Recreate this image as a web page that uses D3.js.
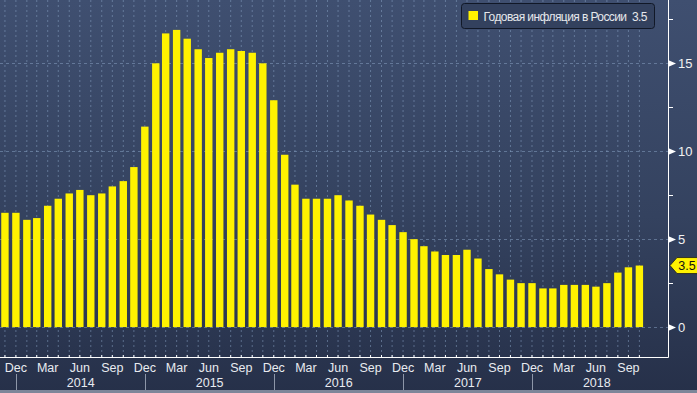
<!DOCTYPE html>
<html>
<head>
<meta charset="utf-8">
<script src="https://cdn.jsdelivr.net/npm/d3@7"></script>
<style>
  html, body { margin: 0; padding: 0; background: #2c3852; }
  svg { display: block; font-family: "Liberation Sans", Arial, sans-serif; }
</style>
</head>
<body>
<div id="root"></div>
<script>
// monthly CPI, Nov 2013 .. Oct 2018 (% y/y)
const startYear = 2013;
const startMonth = 10; // November (0-based)
const inflation = [
  6.5, 6.5,
  6.1, 6.2, 6.9, 7.3, 7.6, 7.8, 7.5, 7.6, 8.0, 8.3, 9.1, 11.4,
  15.0, 16.7, 16.9, 16.4, 15.8, 15.3, 15.6, 15.8, 15.7, 15.6, 15.0, 12.9,
  9.8, 8.1, 7.3, 7.3, 7.3, 7.5, 7.2, 6.9, 6.4, 6.1, 5.8, 5.4,
  5.0, 4.6, 4.3, 4.1, 4.1, 4.4, 3.9, 3.3, 3.0, 2.7, 2.5, 2.5,
  2.2, 2.2, 2.4, 2.4, 2.4, 2.3, 2.5, 3.1, 3.4, 3.5,
];
const monthNames = ["Jan", "Feb", "Mar", "Apr", "May", "Jun", "Jul", "Aug", "Sep", "Oct", "Nov", "Dec"];
const labelMonths = [2, 5, 8, 11]; // Mar, Jun, Sep, Dec
const years = [2014, 2015, 2016, 2017, 2018];
const yMajor = [0, 5, 10, 15];
const yMinor = [2.5, 7.5, 12.5, 17.5];
const legendText = "Годовая инфляция в России  3.5";
const lastValue = "3.5";

const width = 697;
const height = 393;
const plotRight = 668;
const axisY = 357;

const data = inflation.map((v, i) => ({
  date: new Date(startYear, startMonth + i + 1, 0), // month end
  month: (startMonth + i) % 12,
  value: v,
}));

const svg = d3
  .select("#root")
  .append("svg")
  .attr("width", width)
  .attr("height", height);

// background gradient
const defs = svg.append("defs");
const grad = defs
  .append("linearGradient")
  .attr("id", "bg")
  .attr("x1", 0)
  .attr("y1", 0)
  .attr("x2", 0)
  .attr("y2", 1);
grad.append("stop").attr("offset", "0%").attr("stop-color", "#3f4f70");
grad.append("stop").attr("offset", "55%").attr("stop-color", "#34425f");
grad.append("stop").attr("offset", "100%").attr("stop-color", "#263049");

svg
  .append("rect")
  .attr("width", width)
  .attr("height", height)
  .attr("fill", "url(#bg)");

// scales
const x = d3
  .scaleTime()
  .domain([new Date(2013, 10, 16), new Date(2019, 0, 20)])
  .range([0, plotRight]);

const y = d3.scaleLinear().domain([-1.7, 18.6]).range([axisY, 0]);

const gridColor = "rgba(140,165,200,0.5)";

// vertical month grid
svg
  .append("g")
  .selectAll("line")
  .data(data)
  .join("line")
  .attr("x1", (d) => x(d.date))
  .attr("x2", (d) => x(d.date))
  .attr("y1", 0)
  .attr("y2", axisY)
  .attr("stroke", gridColor)
  .attr("stroke-width", 1)
  .attr("stroke-dasharray", "2,3");

// horizontal grid
svg
  .append("g")
  .selectAll("line")
  .data(yMajor)
  .join("line")
  .attr("x1", 0)
  .attr("x2", plotRight)
  .attr("y1", (d) => Math.round(y(d)) + 0.5)
  .attr("y2", (d) => Math.round(y(d)) + 0.5)
  .attr("stroke", gridColor)
  .attr("stroke-dasharray", "3,3");

// bars
const barW = 7.4;
svg
  .append("g")
  .selectAll("rect")
  .data(data)
  .join("rect")
  .attr("x", (d) => x(d.date) - barW / 2)
  .attr("width", barW)
  .attr("y", (d) => y(d.value))
  .attr("height", (d) => y(0) - y(d.value))
  .attr("fill", "#fff200");

// axes lines
svg
  .append("line")
  .attr("x1", 0)
  .attr("x2", plotRight + 0.5)
  .attr("y1", axisY + 0.5)
  .attr("y2", axisY + 0.5)
  .attr("stroke", "#ffffff");
svg
  .append("line")
  .attr("x1", plotRight + 0.5)
  .attr("x2", plotRight + 0.5)
  .attr("y1", 0)
  .attr("y2", axisY + 0.5)
  .attr("stroke", "#ffffff");

// month ticks
svg
  .append("g")
  .selectAll("line")
  .data(data)
  .join("line")
  .attr("x1", (d) => x(d.date))
  .attr("x2", (d) => x(d.date))
  .attr("y1", axisY - 2)
  .attr("y2", axisY)
  .attr("stroke", "#ffffff");

// month labels
svg
  .append("g")
  .selectAll("text")
  .data(data.filter((d) => labelMonths.includes(d.month)))
  .join("text")
  .attr("x", (d) => x(d.date))
  .attr("y", 372)
  .attr("text-anchor", "middle")
  .attr("fill", "#e8ebf0")
  .attr("font-size", 12.5)
  .text((d) => monthNames[d.month]);

// year separators and labels
svg
  .append("g")
  .selectAll("line")
  .data(years)
  .join("line")
  .attr("x1", (d) => Math.round(x(new Date(d, 0, 1))) + 0.5)
  .attr("x2", (d) => Math.round(x(new Date(d, 0, 1))) + 0.5)
  .attr("y1", 374)
  .attr("y2", 390)
  .attr("stroke", "#8d96a8");

svg
  .append("g")
  .selectAll("text")
  .data(years)
  .join("text")
  .attr("x", (d) => {
    const a = x(new Date(d, 0, 1));
    const b = Math.min(x(new Date(d + 1, 0, 1)), plotRight);
    return (a + b) / 2;
  })
  .attr("y", 387)
  .attr("text-anchor", "middle")
  .attr("fill", "#e8ebf0")
  .attr("font-size", 12.5)
  .text((d) => d);

// bottom strip
svg
  .append("rect")
  .attr("x", 0)
  .attr("y", 390)
  .attr("width", width)
  .attr("height", 3)
  .attr("fill", "#7d8699");

// right axis: minor ticks
svg
  .append("g")
  .selectAll("line")
  .data(yMinor)
  .join("line")
  .attr("x1", plotRight)
  .attr("x2", plotRight + 5)
  .attr("y1", (d) => Math.round(y(d)) + 0.5)
  .attr("y2", (d) => Math.round(y(d)) + 0.5)
  .attr("stroke", "#ffffff");

// right axis: major ticks with arrow markers
const yTicks = svg
  .append("g")
  .selectAll("g")
  .data(yMajor)
  .join("g")
  .attr("transform", (d) => `translate(${plotRight}, ${Math.round(y(d)) + 0.5})`);

yTicks
  .append("path")
  .attr("d", "M0,-3.5L8,0L0,3.5Z")
  .attr("fill", "#ffffff");

yTicks
  .append("text")
  .attr("x", 10)
  .attr("dy", "0.36em")
  .attr("fill", "#f2f2f2")
  .attr("font-size", 13)
  .text((d) => d);

// last value tag
const tagY = y(inflation[inflation.length - 1]);
const tag = svg.append("g").attr("transform", `translate(${plotRight + 2}, ${tagY})`);
tag
  .append("path")
  .attr("d", "M0,0L7,-8L29,-8L29,8L7,8Z")
  .attr("fill", "#fff200")
  .attr("stroke", "#1a1a1a")
  .attr("stroke-width", 0.8);
tag
  .append("text")
  .attr("x", 17)
  .attr("dy", "0.36em")
  .attr("text-anchor", "middle")
  .attr("fill", "#111111")
  .attr("font-size", 12.5)
  .text(lastValue);

// legend
const legend = svg.append("g").attr("transform", "translate(461, 3)");
legend
  .append("rect")
  .attr("x", 0.5)
  .attr("y", 0.5)
  .attr("width", 193)
  .attr("height", 25)
  .attr("rx", 3)
  .attr("fill", "#33415e")
  .attr("stroke", "#111827");
legend
  .append("rect")
  .attr("x", 7.5)
  .attr("y", 8)
  .attr("width", 9.5)
  .attr("height", 9)
  .attr("fill", "#fff200");
legend
  .append("text")
  .attr("x", 22.5)
  .attr("y", 17.5)
  .attr("fill", "#e6e8ec")
  .attr("font-size", 12)
  .style("white-space", "pre")
  .attr("textLength", 164)
  .attr("lengthAdjust", "spacing")
  .text(legendText);
</script>
</body>
</html>
